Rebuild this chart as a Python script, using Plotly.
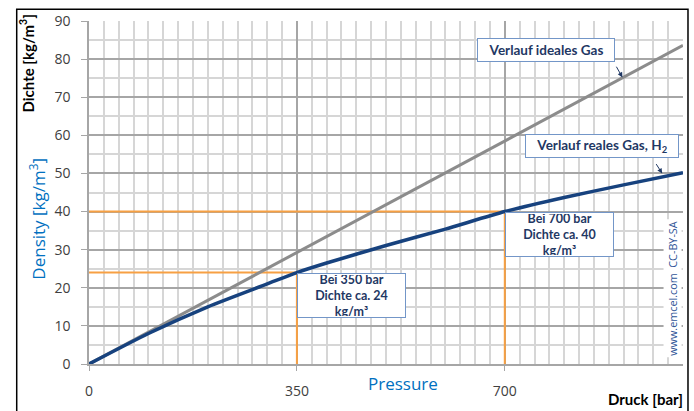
import plotly.graph_objects as go

# Data
pressure = [0, 100, 200, 300, 350, 400, 500, 600, 700, 800, 900, 1000]
density_real = [0, 8.0, 15.0, 21.0, 24.0, 26.5, 31.1, 35.4, 40.0, 43.7, 47.0, 50.2]
ideal_pressure = [0, 1000]
ideal_density = [0, 83.6]
marker_pressure = [350, 700]
marker_density = [24, 40]
x_ticks = [0, 350, 700]
y_ticks = [0, 10, 20, 30, 40, 50, 60, 70, 80, 90]

BLUE = "#17427e"
GRAY = "#8c8c8c"
ORANGE = "#f7a043"
TXT = "#1f3864"
BOX = "#7396c8"

fig = go.Figure()

# orange guide lines
for p, d in zip(marker_pressure, marker_density):
    fig.add_trace(go.Scatter(x=[0, p, p], y=[d, d, 0], mode="lines",
                             line=dict(color=ORANGE, width=2), hoverinfo="skip",
                             showlegend=False))

fig.add_trace(go.Scatter(x=ideal_pressure, y=ideal_density, mode="lines",
                         line=dict(color=GRAY, width=3), showlegend=False))
fig.add_trace(go.Scatter(x=pressure, y=density_real, mode="lines",
                         line=dict(color=BLUE, width=3.5, shape="spline", smoothing=0.6),
                         showlegend=False))

fig.update_xaxes(range=[0, 1000], tickvals=x_ticks, showgrid=True,
                 gridcolor="#a6a6a6", gridwidth=1.5,
                 minor=dict(dtick=25, tick0=0, showgrid=True, gridcolor="#d6d6d6", gridwidth=1.5),
                 showline=True, linecolor="#a6a6a6", linewidth=1.5,
                 ticks="outside", ticklen=5, tickcolor="#a6a6a6",
                 tickfont=dict(family="Open Sans", size=14, color="#404040"),
                 ticklabelstandoff=8, zeroline=False, fixedrange=True)
fig.update_yaxes(range=[0, 90], tickvals=y_ticks, showgrid=True,
                 gridcolor="#a6a6a6", gridwidth=1.5,
                 minor=dict(dtick=5, tick0=0, showgrid=True, gridcolor="#d6d6d6", gridwidth=1.5),
                 showline=True, linecolor="#a6a6a6", linewidth=1.5,
                 ticks="outside", ticklen=6, tickcolor="#a6a6a6",
                 tickfont=dict(family="Open Sans", size=14, color="#404040"),
                 ticklabelstandoff=8, zeroline=False, fixedrange=True)

ann = []
C = dict(xanchor="center", yanchor="middle", showarrow=False, xref="paper", yref="paper")
# axis titles
ann.append(dict(text="<b>Dichte [kg/m<sup>3</sup>]</b>", x=-0.1044, y=0.876, textangle=-90,
                font=dict(family="Lato", size=15, color="#000000"), **C))
ann.append(dict(text="Density [kg/m<sup>3</sup>]", x=-0.0859, y=0.4236, textangle=-90,
                font=dict(family="Open Sans", size=17, color="#0070c0"), **C))
ann.append(dict(text="Pressure", x=0.5286, y=-0.0576,
                font=dict(family="Open Sans", size=17, color="#0070c0"), **C))
ann.append(dict(text="<b>Druck [bar]</b>", xref="paper", yref="paper",
                x=1.0034, y=-0.1009, xanchor="right", yanchor="middle", showarrow=False,
                font=dict(family="Lato", size=15, color="#000000")))
ann.append(dict(text="www.emcel.com  CC-BY-SA", x=0.983, y=0.222, textangle=-90,
                bgcolor="white", font=dict(family="Open Sans", size=10.8, color="#2f5597"), **C))

boxfont = dict(family="Lato", size=13.5, color=TXT)
# label boxes
ann.append(dict(text="<b>Verlauf ideales Gas</b>", x=652.7, y=85.5, xanchor="left",
                yanchor="top", showarrow=False, bgcolor="white", bordercolor=BOX,
                borderwidth=1, borderpad=1, width=134, height=20, font=boxfont))
ann.append(dict(text="<b>Verlauf reales Gas, H<sub>2</sub></b>", x=733.8, y=60.4,
                xanchor="left", yanchor="top", showarrow=False, bgcolor="white",
                bordercolor=BOX, borderwidth=1, borderpad=1, width=150, height=20,
                font=boxfont))
for p, d in zip(marker_pressure, marker_density):
    ann.append(dict(text=f"<b>Bei {p} bar<br>Dichte ca. {d}<br>kg/m³</b>", x=p, y=d,
                    xanchor="left", yanchor="top", showarrow=False, bgcolor="white",
                    bordercolor=BOX, borderwidth=1, borderpad=1, width=105, height=41,
                    font=dict(family="Lato", size=12.5, color=TXT)))
# arrows
ann.append(dict(text=" ", x=898, y=75.2, ax=-9, ay=-16, showarrow=True,
                arrowhead=2, arrowsize=1, arrowwidth=1, arrowcolor=TXT))
ann.append(dict(text=" ", x=965, y=50.0, ax=-9, ay=-14, showarrow=True,
                arrowhead=2, arrowsize=1, arrowwidth=1, arrowcolor=TXT))

fig.update_layout(
    width=694, height=411,
    margin=dict(l=89, r=11, t=20, b=44),
    plot_bgcolor="white", paper_bgcolor="white",
    annotations=ann,
    shapes=[dict(type="rect", xref="paper", yref="paper", x0=-0.1217, x1=1.0084,
                 y0=-0.25, y1=1.0346, line=dict(color="#000000", width=1.5),
                 layer="below")],
)

fig.write_html("out.html", config={"displayModeBar": False},
               post_script="document.body.style.margin='0px';")
